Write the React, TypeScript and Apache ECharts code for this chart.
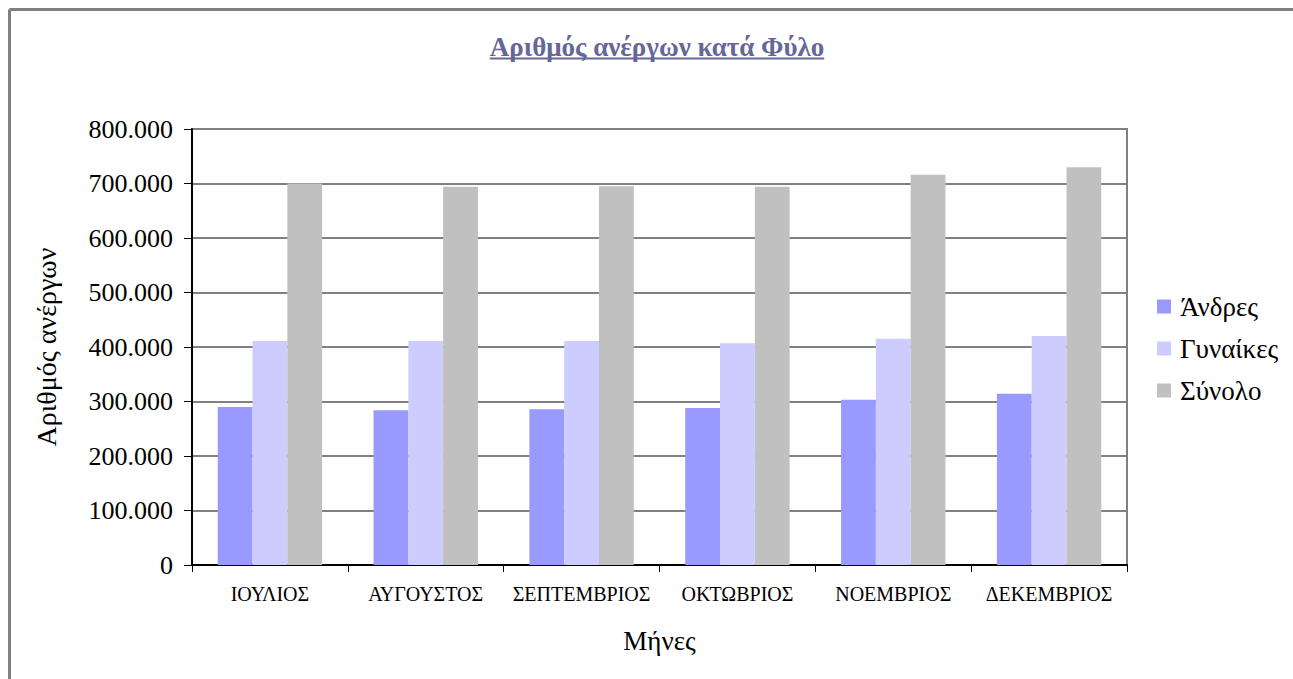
import React, { useEffect, useRef } from "react";
import * as echarts from "echarts";

const months = ["ΙΟΥΛΙΟΣ", "ΑΥΓΟΥΣΤΟΣ", "ΣΕΠΤΕΜΒΡΙΟΣ", "ΟΚΤΩΒΡΙΟΣ", "ΝΟΕΜΒΡΙΟΣ", "ΔΕΚΕΜΒΡΙΟΣ"];
const men = [290000, 284000, 286000, 288000, 303000, 314000];
const women = [411000, 411000, 411000, 407000, 415000, 420000];
const total = [700000, 694000, 695000, 694000, 716000, 730000];
const seriesNames = ["Άνδρες", "Γυναίκες", "Σύνολο"];
const seriesColors = ["#9999FF", "#CCCCFF", "#C0C0C0"];
const titleText = "Αριθμός ανέργων κατά Φύλο";
const yName = "Αριθμός ανέργων";
const xName = "Μήνες";

const FONT = "'Liberation Serif', 'DejaVu Serif', serif";

function fmt(v: number): string {
  return String(Math.round(v)).replace(/\B(?=(\d{3})+(?!\d))/g, ".");
}

export default function App() {
  const ref = useRef<HTMLDivElement>(null);
  useEffect(() => {
    if (!ref.current) return;
    const chart = echarts.init(ref.current, undefined, { renderer: "svg" });
    const titleFont = `bold 27px ${FONT}`;
    let tw = 342;
    try {
      const c = document.createElement("canvas").getContext("2d");
      if (c) {
        c.font = titleFont;
        tw = c.measureText(titleText).width;
      }
    } catch (e) {}
    const cx = 657;
    const data = [men, women, total];
    chart.setOption({
      animation: false,
      backgroundColor: "#ffffff",
      textStyle: { fontFamily: FONT },
      grid: {
        left: 192,
        right: 166,
        top: 129,
        bottom: 114,
        show: true,
        borderColor: "#808080",
        borderWidth: 2,
        backgroundColor: "transparent",
      },
      legend: {
        orient: "vertical",
        left: 1152,
        top: 287,
        itemWidth: 14,
        itemHeight: 14,
        itemGap: 13,
        icon: "rect",
        data: seriesNames,
        textStyle: { fontFamily: FONT, fontSize: 27, color: "#000", lineHeight: 29, padding: [0, 0, 0, 4] },
      },
      xAxis: {
        type: "category",
        data: months,
        name: xName,
        nameLocation: "middle",
        nameGap: 62,
        nameTextStyle: { fontFamily: FONT, fontSize: 27, color: "#000" },
        axisLine: { lineStyle: { color: "#000", width: 2 } },
        axisTick: { show: true, length: 7, lineStyle: { color: "#000", width: 1 } },
        axisLabel: { fontFamily: FONT, fontSize: 20, color: "#000", margin: 19, interval: 0 },
        splitLine: { show: false },
      },
      yAxis: {
        type: "value",
        min: 0,
        max: 800000,
        interval: 100000,
        name: yName,
        nameLocation: "middle",
        nameGap: 132,
        nameTextStyle: { fontFamily: FONT, fontSize: 28, color: "#000" },
        axisLine: { show: true, lineStyle: { color: "#000", width: 2 } },
        axisTick: { show: true, length: 8, lineStyle: { color: "#000", width: 1 } },
        axisLabel: { fontFamily: FONT, fontSize: 26, color: "#000", margin: 19, formatter: (v: number) => fmt(v) },
        splitLine: { show: true, lineStyle: { color: "#808080", width: 2 } },
      },
      series: seriesNames.map((n, i) => ({
        name: n,
        type: "bar",
        data: data[i],
        barGap: "0%",
        barCategoryGap: "33%",
        itemStyle: { color: seriesColors[i] },
      })),
      graphic: [
        { type: "line", shape: { x1: 9.5, y1: 9.5, x2: 1293, y2: 9.5 }, style: { stroke: "#808080", lineWidth: 3 }, z: 100 },
        { type: "line", shape: { x1: 9.5, y1: 9.5, x2: 9.5, y2: 679 }, style: { stroke: "#808080", lineWidth: 3 }, z: 100 },
        {
          type: "text",
          x: cx,
          y: 47,
          style: {
            text: titleText,
            font: titleFont,
            fill: "#666699",
            textAlign: "center",
            textVerticalAlign: "middle",
          },
        },
        {
          type: "line",
          shape: { x1: cx - tw / 2, y1: 58.5, x2: cx + tw / 2, y2: 58.5 },
          style: { stroke: "#666699", lineWidth: 2 },
        },
      ],
    });
    return () => chart.dispose();
  }, []);
  return (
    <div
      ref={ref}
      style={{ position: "fixed", left: 0, top: 0, width: 1293, height: 679 }}
    />
  );
}
